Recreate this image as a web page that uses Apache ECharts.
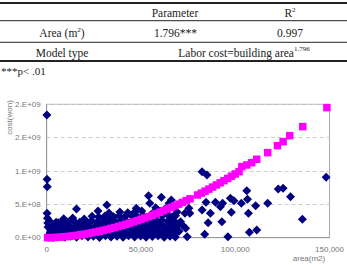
<!DOCTYPE html>
<html><head><meta charset="utf-8">
<script src="https://cdn.jsdelivr.net/npm/echarts@6/dist/echarts.min.js"></script>
<style>html,body{margin:0;padding:0;background:#fff}#c{width:347px;height:265px}</style>
</head><body><div id="c"></div>
<script>
// ---- table content ----
const tableHeader = ['', '{t|Parameter}', '{t|R}{s|2}'];
const tableRow1 = ['{t|Area (m}{s|2}{t|)}', '{t|1.796***}', '{t|0.997}'];
const tableRow2 = ['{t|Model type}', '{t|Labor cost=building area}{s|1.796}'];
const footNote = '***p< .01';

// ---- axes ----
const xTickLabels = ['0', '50,000', '100,000', '150,000'];
const yTickLabels = ['0.E+00', '5.E+08', '1.E+09', '2.E+09', '2.E+09'];
const xAxisName = 'area(m2)';
const yAxisName = 'cost(won)';

// ---- observed data (area m2, cost won) ----
const observedLeft = [
  [100,1.84e9],[200,8.76e8],[300,7.65e8],[200,3.66e8],[400,2.9e8],[600,2.2e8],
  [6100,2.25e8],[15800,4.3e8],[27200,4.0e8],[31900,4.9e8]
];
const observedBandLow = [
  [800,1.5e7],[3500,3e6],[6800,2.5e7],[9600,8e6],[12500,2e7],[15800,5e6],[18700,3e7],[21900,1e7],[24800,2.2e7],[28000,4e6],[31200,2.8e7],[34100,1.2e7],[37300,2e7],[40500,5e6],[43400,3e7],[46600,1e7],[49800,2.5e7],[52700,6e6],[56000,1.8e7],[59100,3e7],[62300,8e6],[65400,2.2e7],[68200,1.2e7],
  [2000,8e7],[5200,9.5e7],[8100,7.5e7],[11200,1.0e8],[14300,8.5e7],[17200,9.5e7],[20500,7.8e7],[23400,1.02e8],[26600,8.8e7],[29700,9.6e7],[32800,8.2e7],[35800,1.05e8],[39000,9e7],[42100,1.0e8],[45200,8e7],[48300,9.8e7],[51400,8.6e7],[54500,1.04e8],[57600,9e7],[60800,8e7],[63800,1.0e8],[67000,8.8e7],[70200,9.5e7],
  [1500,5e7],[4600,4.5e7],[33500,5.5e7],[36700,4.8e7],[39800,5.2e7],[43000,6e7],[46000,5e7],[49200,5.8e7],[52300,4.5e7],[55400,5.5e7],[58500,6e7],[61600,4.8e7],[64700,5.6e7],[67800,5e7]
];
const observedBandMid = [
  [700,1.6e8],[3600,1.75e8],[6700,1.55e8],[9900,1.7e8],[12900,1.6e8],[16000,1.8e8],[19100,1.58e8],[22200,1.72e8],[25300,1.62e8],[28400,1.78e8],[31500,1.6e8],[34600,1.7e8],[37700,1.82e8],[40800,1.6e8],[43900,1.75e8],[47000,1.65e8],[50100,1.8e8],[53200,1.6e8],[56300,1.72e8],[59400,1.85e8],[62500,1.6e8],[65600,1.75e8],[68700,1.68e8],
  [1800,2.4e8],[5000,2.3e8],[8200,2.45e8],[11300,2.35e8],[14400,2.5e8],[17500,2.3e8],[20700,2.45e8],[23800,2.55e8],[26900,2.4e8],[30000,2.5e8],[33100,2.6e8],[36200,2.45e8],[39300,2.55e8],[42400,2.48e8],[45500,2.6e8],[48600,2.5e8],[51700,2.42e8],[54800,2.58e8],[57900,2.5e8],[61000,2.62e8],[64100,2.45e8],[67200,2.55e8],
  [2300,1.25e8],[5400,1.3e8],[8600,1.2e8],[11800,1.35e8],[15000,1.25e8],[18200,1.3e8],[21400,1.22e8],[24600,1.32e8],[27700,1.28e8],[30800,1.3e8],[33900,1.24e8],[37000,1.34e8],[40100,1.28e8],[43200,1.3e8],[46300,1.25e8],[49400,1.35e8],[52500,1.3e8],[55600,1.26e8],[58700,1.34e8],[61800,1.28e8],[64900,1.3e8],[68000,1.24e8],
  [3200,2.05e8],[10500,2.0e8],[19500,2.08e8],[27200,2.1e8],[32300,2.05e8],[38500,2.12e8],[44600,2.08e8],[50800,2.15e8],[56000,2.1e8],[60300,2.05e8],[65700,2.12e8],[69500,2.1e8]
];
const observedBandTop = [
  [9000,2.85e8],[13800,2.95e8],[19900,2.8e8],[24100,3.2e8],[27500,3.1e8],[30900,3.25e8],[35500,3.15e8],[38400,3.3e8],[41700,3.2e8],[44800,3.35e8],[47900,3.2e8],[51200,3.3e8],[55100,3.4e8],[58200,3.25e8],[61600,3.35e8],[64900,3.2e8],[68300,3.3e8],
  [33000,3.7e8],[38800,3.85e8],[43000,3.75e8],[46800,3.9e8],[50400,4.0e8],[56800,3.8e8],[60200,3.95e8],[63300,3.8e8],[69100,3.85e8],
  [47500,4.4e8],[57800,4.5e8],[62800,4.35e8]
];
const observedRight = [
  [54000,6.3e8],[54700,5.16e8],[60800,6.06e8],[66100,5.65e8],[64900,5.16e8],
  [82400,9.9e8],[85000,9.4e8],[148200,9.06e8],[122800,7.3e8],[125400,7.4e8],[129300,6.15e8],
  [117200,5.16e8],[106100,7.05e8],[106500,5.76e8],[103200,5.16e8],[99300,5.55e8],[110800,4.8e8],
  [107000,3.66e8],[97900,3.81e8],[93300,5.16e8],[89500,5.31e8],[92100,4.65e8],[84500,5.31e8],
  [82400,4.16e8],[86800,3.66e8],[85600,2.25e8],[92900,2.4e8],[83800,5.1e7],[96100,1.5e7],
  [107500,8.1e7],[111400,1.16e8],[135600,2.76e8],[75400,4.41e8],[75900,3.66e8],[73300,3.66e8],
  [66600,3.15e8],[66600,9e7],[71900,1.9e8],[73700,1.41e8],[74500,1.5e7],[71000,2.4e8],[97400,5.9e8]
];

// ---- fitted values: labor cost = area^1.796 ----
const fitted = [
  [500,1e5],[2000,8.5e5],[4000,2.95e6],[6000,6.1e6],[8000,1.02e7],[10000,1.53e7],[12000,2.12e7],[14000,2.8e7],[16000,3.55e7],[18000,4.39e7],[20000,5.31e7],[22000,6.3e7],[24000,7.36e7],[26000,8.5e7],[28000,9.71e7],[30000,1.10e8],[32000,1.23e8],[34000,1.38e8],[36000,1.52e8],[38000,1.68e8],[40000,1.84e8],[42000,2.01e8],[44000,2.18e8],[46000,2.37e8],[48000,2.55e8],[50000,2.75e8],[52000,2.95e8],[54000,3.16e8],[56000,3.37e8],[58000,3.59e8],[60000,3.82e8],[62000,4.05e8],[64000,4.29e8],[66000,4.53e8],[68000,4.78e8],[70000,5.03e8],[72000,5.29e8],[74000,5.56e8],[76000,5.83e8],
  [80000,6.4e8],[82000,6.68e8],[84000,6.97e8],[86000,7.28e8],[88000,7.59e8],[90000,7.91e8],[92000,8.23e8],[94000,8.55e8],[96000,8.88e8],[98000,9.22e8],[100000,9.55e8],[102000,9.9e8],[103500,1.065e9],[106100,1.09e9],[108700,1.125e9],[111400,1.176e9],[117200,1.275e9],[122400,1.38e9],[125400,1.44e9],[128900,1.53e9],[135800,1.665e9],[148600,1.95e9]
];

const observed = observedLeft.concat(observedBandLow, observedBandMid, observedBandTop, observedRight);

const serif = 'Liberation Serif, Times New Roman, serif';
const sans = 'Liberation Sans, Arial, sans-serif';
const rich = {
  t: {fontFamily: serif, fontSize: 11.5, fill: '#222', color: '#222', lineHeight: 14},
  s: {fontFamily: serif, fontSize: 7, fill: '#222', color: '#222', lineHeight: 14, verticalAlign: 'top', padding: [0,0,6,0]}
};
function cell(text, x, y) {
  return {type: 'text', x: x, y: y, silent: true,
    style: {text: text, rich: rich, align: 'center', verticalAlign: 'middle', fontFamily: serif, fontSize: 11.5, fill: '#222'}};
}
function hline(y, w) {
  return {type: 'line', silent: true, shape: {x1: 0, y1: y, x2: 347, y2: y}, style: {stroke: '#222', lineWidth: w}};
}

const graphics = [
  hline(3, 2), hline(20.7, 1), hline(42.3, 1), hline(61, 2),
  cell(tableHeader[1], 175, 13.3), cell(tableHeader[2], 290, 13.3),
  cell(tableRow1[0], 62, 33.3), cell(tableRow1[1], 175.5, 33.3), cell(tableRow1[2], 290, 33.3),
  cell(tableRow2[0], 62, 52.7), cell(tableRow2[1], 244, 52.7),
  {type: 'text', x: 1, y: 70.7, silent: true, style: {text: footNote, align: 'left', verticalAlign: 'middle', fontFamily: serif, fontSize: 11, fill: '#222'}},
  {type: 'text', x: 9, y: 117.5, rotation: Math.PI / 2, silent: true, style: {text: yAxisName, align: 'center', verticalAlign: 'middle', fontFamily: sans, fontSize: 8, fill: '#777'}},
  {type: 'text', x: 309, y: 258.5, silent: true, style: {text: xAxisName, align: 'center', verticalAlign: 'middle', fontFamily: sans, fontSize: 8, fill: '#777'}}
];

const chart = echarts.init(document.getElementById('c'), null, {renderer: 'svg'});
chart.setOption({
  animation: false,
  backgroundColor: '#fff',
  grid: {left: 46.7, right: 16, top: 104.3, bottom: 27.3, show: true, borderColor: '#aaa', borderWidth: 1},
  xAxis: {
    type: 'value', min: 0, max: 150000, interval: 50000,
    axisLine: {show: true, lineStyle: {color: '#999'}}, axisTick: {show: false}, splitLine: {show: false},
    axisLabel: {margin: 8, color: '#777', fontFamily: sans, fontSize: 8,
      formatter: function (v) { return xTickLabels[Math.round(v / 50000)]; }}
  },
  yAxis: {
    type: 'value', min: 0, max: 2e9, interval: 5e8,
    axisLine: {show: true, lineStyle: {color: '#999'}}, axisTick: {show: false},
    splitLine: {show: true, lineStyle: {color: '#ccc', type: [4, 3]}},
    axisLabel: {margin: 6, color: '#777', fontFamily: sans, fontSize: 8,
      formatter: function (v) { return yTickLabels[Math.round(v / 5e8)]; }}
  },
  series: [
    {type: 'scatter', data: observed, symbol: 'diamond', symbolSize: 9, clip: false,
      itemStyle: {color: '#000080', opacity: 1}, silent: true},
    {type: 'scatter', data: fitted, symbol: 'rect', symbolSize: 7.5, clip: false,
      itemStyle: {color: '#ff00ff', opacity: 1}, silent: true}
  ],
  graphic: graphics
});
</script></body></html>
